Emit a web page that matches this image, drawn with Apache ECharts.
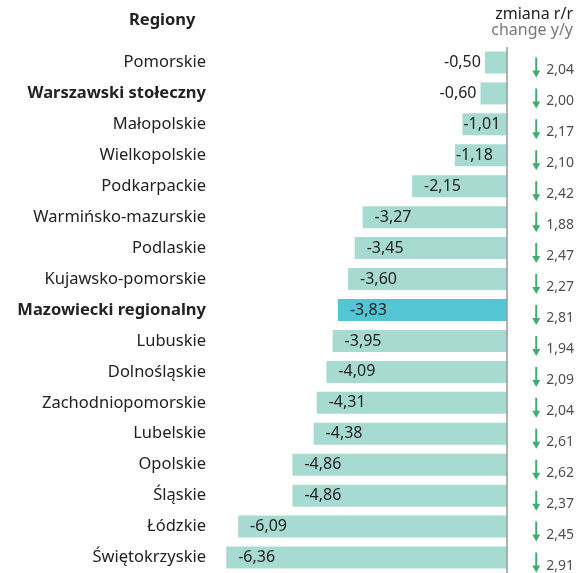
<!DOCTYPE html>
<html>
<head>
<meta charset="utf-8">
<script src="https://cdn.jsdelivr.net/npm/echarts@6/dist/echarts.min.js"></script>
<style>
  html, body { margin: 0; padding: 0; background: #fff; }
  #chart { width: 578px; height: 573px; }
</style>
</head>
<body>
<div id="chart"></div>
<script>
// dane
const regions = [
  'Pomorskie', 'Warszawski stołeczny', 'Małopolskie', 'Wielkopolskie', 'Podkarpackie',
  'Warmińsko-mazurskie', 'Podlaskie', 'Kujawsko-pomorskie', 'Mazowiecki regionalny',
  'Lubuskie', 'Dolnośląskie', 'Zachodniopomorskie', 'Lubelskie', 'Opolskie',
  'Śląskie', 'Łódzkie', 'Świętokrzyskie'
]
const values = [-0.50, -0.60, -1.01, -1.18, -2.15, -3.27, -3.45, -3.60, -3.83, -3.95, -4.09, -4.31, -4.38, -4.86, -4.86, -6.09, -6.36]
const changes = [2.04, 2.00, 2.17, 2.10, 2.42, 1.88, 2.47, 2.27, 2.81, 1.94, 2.09, 2.04, 2.61, 2.62, 2.37, 2.45, 2.91]
const boldRegions = ['Warszawski stołeczny', 'Mazowiecki regionalny']
const highlighted = 'Mazowiecki regionalny'

const fmt = v => v.toFixed(2).replace('.', ',')
const FONT = '"Noto Sans", sans-serif'
const arrowPath = 'path://M3,0 L5,0 L5,13 L8,13 L4,20 L0,13 L3,13 Z'

const chart = echarts.init(document.getElementById('chart'))

const barData = values.map((v, i) => {
  // krótkie słupki: etykieta poza słupkiem
  let label
  if (Math.abs(v) < 1) label = {position: 'left', distance: 4}
  else if (Math.abs(v) < 2) label = {position: 'insideLeft', distance: 1}
  else label = {position: 'insideLeft', distance: 12}
  return {
    value: v,
    itemStyle: {color: regions[i] === highlighted ? '#54c5d3' : '#a7dbd2'},
    label,
  }
})

const option = {
  animation: false,
  graphic: [
    {type: 'text', left: 129, top: 12, style: {text: 'Regiony', font: 'bold 16.5px ' + FONT, fill: '#222'}},
    {type: 'text', right: 5, top: 6, style: {text: 'zmiana r/r', font: '16px ' + FONT, fill: '#222'}},
    {type: 'text', right: 5, top: 22, style: {text: 'change y/y', font: '16px ' + FONT, fill: '#777'}},
  ],
  grid: [
    {left: 220, right: 71, top: 47, height: 530},
    {left: 520, right: 0, top: 47, height: 530},
  ],
  xAxis: [
    {type: 'value', gridIndex: 0, min: -6.5, max: 0, show: false},
    {type: 'value', gridIndex: 1, min: 0, max: 1, show: false},
  ],
  yAxis: [
    {
      type: 'category', gridIndex: 0, data: regions, inverse: true,
      axisLine: {show: false}, axisTick: {show: false},
      axisLabel: {
        margin: 14,
        formatter: v => boldRegions.includes(v) ? '{b|' + v + '}' : '{n|' + v + '}',
        rich: {
          n: {fontFamily: FONT, fontSize: 16.5, color: '#222'},
          b: {fontFamily: FONT, fontSize: 16.5, color: '#222', fontWeight: 'bold'},
        },
      },
    },
    {type: 'category', gridIndex: 1, data: regions, inverse: true, show: false},
  ],
  series: [
    {
      type: 'bar', xAxisIndex: 0, yAxisIndex: 0,
      data: barData, barWidth: 22,
      label: {
        show: true, fontFamily: FONT, fontSize: 16, color: '#222',
        formatter: p => fmt(p.value),
      },
      markLine: {
        silent: true, symbol: 'none',
        lineStyle: {color: '#999', width: 1.5, type: 'solid'},
        label: {show: false},
        data: [{xAxis: 0}],
      },
    },
    {
      type: 'scatter', xAxisIndex: 1, yAxisIndex: 1,
      data: changes.map((c, i) => [0.28, regions[i]]),
      symbol: arrowPath, symbolSize: [8, 20], symbolOffset: [0, 5],
      itemStyle: {color: '#13964a'},
      label: {
        show: true, position: 'right', distance: 6, offset: [0, 3],
        fontFamily: FONT, fontSize: 14, color: '#222',
        formatter: p => fmt(changes[p.dataIndex]),
      },
    },
  ],
}

chart.setOption(option)
</script>
</body>
</html>
